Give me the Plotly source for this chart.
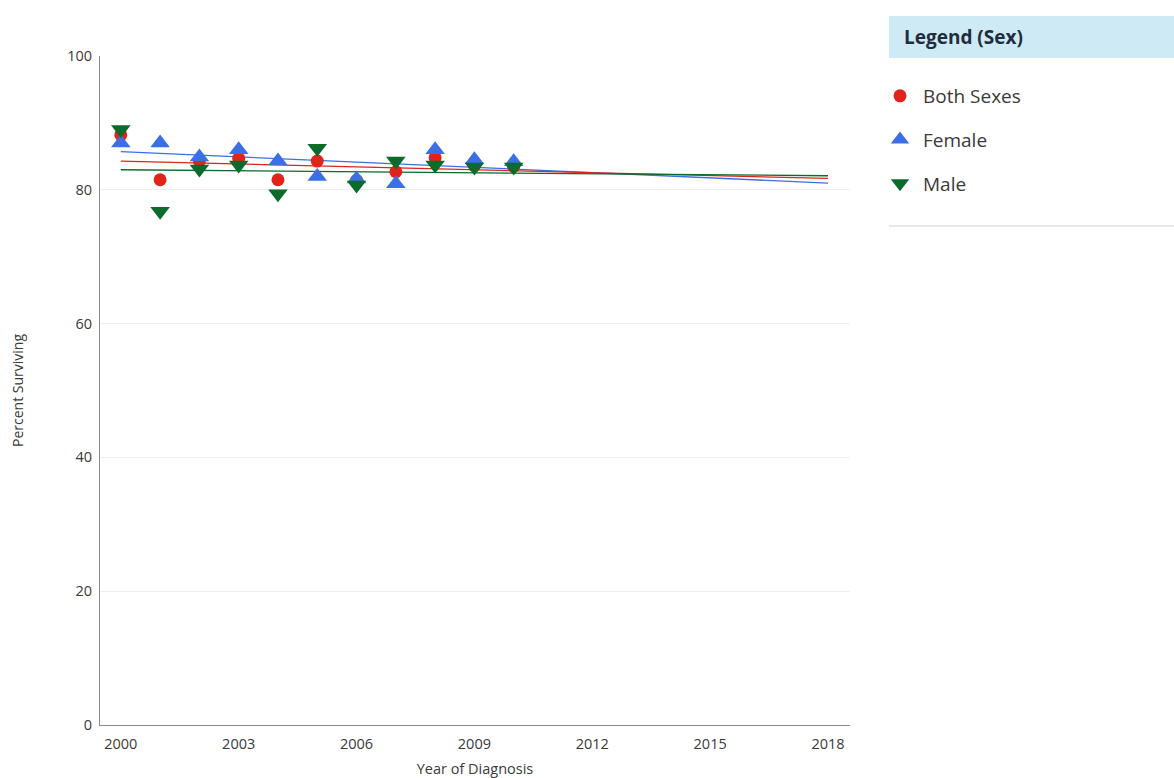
import plotly.graph_objects as go

years = [2000, 2001, 2002, 2003, 2004, 2005, 2006, 2007, 2008, 2009, 2010]

both_sexes = [88.2, 81.5, 84.3, 84.7, 81.5, 84.3, 81.4, 82.7, 84.8, 83.6, 83.5]
female = [87.0, 87.0, 84.9, 86.0, 84.3, 82.0, 81.6, 80.9, 86.0, 84.5, 84.2]
male = [89.0, 76.8, 83.1, 83.7, 79.4, 86.2, 80.7, 84.3, 83.7, 83.4, 83.4]

trend_years = [2000, 2018]
both_trend = [84.3, 81.7]
female_trend = [85.7, 81.0]
male_trend = [83.0, 82.1]

x_ticks = [2000, 2003, 2006, 2009, 2012, 2015, 2018]
y_ticks = [0, 20, 40, 60, 80, 100]

RED = "#e2231a"
BLUE = "#3b6fe6"
GREEN = "#0a6b2b"
FONT = "Open Sans"
TXT = "#3a3a3a"

fig = go.Figure()

# fitted trend lines
for ys, col in [(female_trend, BLUE), (both_trend, RED), (male_trend, GREEN)]:
    fig.add_trace(go.Scatter(
        x=trend_years, y=ys, mode="lines",
        line=dict(color=col, width=1.3),
        showlegend=False, hoverinfo="skip",
    ))

series = [
    ("Both Sexes", both_sexes, RED, "circle", 13),
    ("Female", female, BLUE, "triangle-up", 17),
    ("Male", male, GREEN, "triangle-down", 17),
]
for name, ys, col, sym, sz in series:
    fig.add_trace(go.Scatter(
        x=years, y=ys, mode="markers", name=name, legendgroup=name,
        marker=dict(color=col, symbol=sym, size=sz, line=dict(width=0)),
    ))

fig.update_layout(
    width=1174, height=778,
    margin=dict(l=100, r=324, t=56, b=53),
    paper_bgcolor="white", plot_bgcolor="white",
    font=dict(family=FONT, color=TXT, size=12),
    xaxis=dict(
        range=[1999.47, 2018.56], tickvals=x_ticks, automargin=False,
        showgrid=False, zeroline=False,
        showline=True, linecolor="#8c8c8c", linewidth=1,
        ticks="", ticklabelstandoff=6, tickfont=dict(size=14.5, color=TXT),
        title=dict(text="Year of Diagnosis", font=dict(size=14.5, color=TXT), standoff=14),
    ),
    yaxis=dict(
        range=[0, 100], tickvals=y_ticks, automargin=False,
        showgrid=True, gridcolor="#efefef", gridwidth=1, zeroline=False,
        showline=True, linecolor="#8c8c8c", linewidth=1,
        ticks="", ticklabelstandoff=4, tickfont=dict(size=14.5, color=TXT),
        title=dict(text="Percent Surviving", font=dict(size=14, color=TXT), standoff=40),
    ),
    legend=dict(
        font=dict(family=FONT, size=19, color=TXT),
        tracegroupgap=16, itemsizing="trace", itemwidth=36,
        bgcolor="rgba(0,0,0,0)",
    ),
    showlegend=True,
)

# legend panel placed in pixel-derived paper coordinates
pw = 1174 - 100 - 324
ph = 778 - 56 - 53
def px(xp):
    return (xp - 100) / pw
def py(yp):
    return (778 - 53 - yp) / ph

fig.update_layout(legend=dict(x=px(877), y=py(77), xanchor="left", yanchor="top"))

fig.add_shape(type="rect", xref="paper", yref="paper",
              x0=px(889), x1=px(1174), y0=py(58), y1=py(16),
              fillcolor="#cdeaf5", line=dict(width=0), layer="below")
fig.add_shape(type="line", xref="paper", yref="paper",
              x0=px(889), x1=px(1174), y0=py(226), y1=py(226),
              line=dict(color="#e6e6e6", width=2))
fig.add_annotation(xref="paper", yref="paper", x=px(902), y=py(37),
                   xanchor="left", yanchor="middle", showarrow=False,
                   text="<b>Legend (Sex)</b>",
                   font=dict(family=FONT, size=19, color="#1f2d3d"))

fig.write_html("out.html")
